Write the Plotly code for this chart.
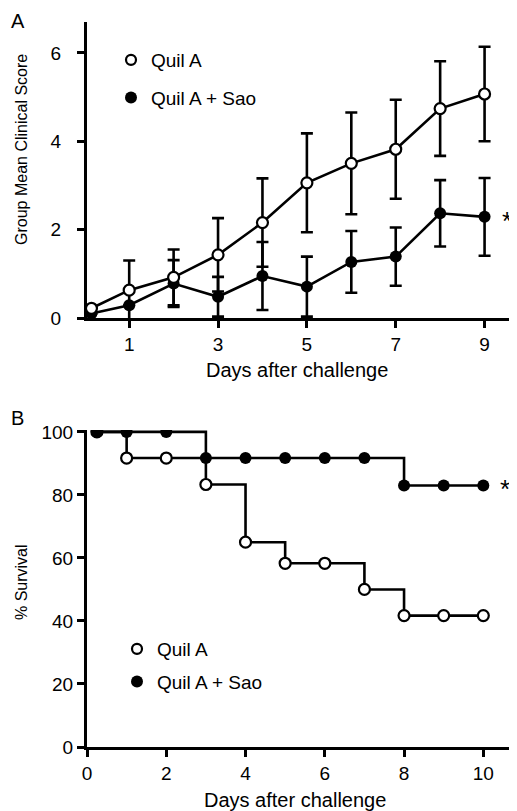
import plotly.graph_objects as go

# ---------------- data ----------------
# Panel A: group mean clinical score
days_a = [0.15, 1, 2, 3, 4, 5, 6, 7, 8, 9]
quil_a_score = [0.22, 0.63, 0.92, 1.43, 2.16, 3.06, 3.5, 3.82, 4.74, 5.07]
quil_a_err = [0.0, 0.67, 0.63, 0.83, 1.0, 1.12, 1.15, 1.12, 1.07, 1.07]
sao_score = [0.1, 0.29, 0.78, 0.48, 0.95, 0.71, 1.27, 1.39, 2.37, 2.29]
sao_err = [0.0, 0.0, 0.53, 0.45, 0.77, 0.68, 0.7, 0.66, 0.75, 0.88]

# Panel B: % survival
days_b = [0.25, 1, 2, 3, 4, 5, 6, 7, 8, 9, 10]
quil_a_surv = [100, 91.7, 91.7, 83.3, 65.0, 58.3, 58.3, 50.0, 41.7, 41.7, 41.7]
sao_surv = [100, 100, 100, 91.7, 91.7, 91.7, 91.7, 91.7, 83.0, 83.0, 83.0]

ticks_a_x = [1, 3, 5, 7, 9]
ticks_a_y = [0, 2, 4, 6]
ticks_b_x = [0, 2, 4, 6, 8, 10]
ticks_b_y = [0, 20, 40, 60, 80, 100]

series_names = ["Quil A", "Quil A + Sao"]

FONT = "Liberation Sans"
BLACK = "#000000"
OFF = 8                     # page body margin offset
W, H = 517 - OFF, 811 - OFF


def px(x):
    return (x - OFF) / W


def py(y):
    return 1 - (y - OFF) / H


fig = go.Figure()

# ---- Panel A ----
fig.add_trace(go.Scatter(
    x=days_a, y=sao_score, mode="lines+markers", xaxis="x", yaxis="y",
    line=dict(color=BLACK, width=2.6),
    marker=dict(symbol="circle", size=12, color=BLACK),
    error_y=dict(type="data", array=sao_err, color=BLACK, thickness=2.6, width=6),
    showlegend=False))
fig.add_trace(go.Scatter(
    x=days_a, y=quil_a_score, mode="lines+markers", xaxis="x", yaxis="y",
    line=dict(color=BLACK, width=2.6),
    marker=dict(symbol="circle", size=11, color="white", line=dict(color=BLACK, width=2.2)),
    error_y=dict(type="data", array=quil_a_err, color=BLACK, thickness=2.6, width=6),
    showlegend=False))

# ---- Panel B ----
fig.add_trace(go.Scatter(
    x=days_b, y=quil_a_surv, mode="lines+markers", xaxis="x2", yaxis="y2",
    line=dict(color=BLACK, width=2.6, shape="hv"),
    marker=dict(symbol="circle", size=11, color="white", line=dict(color=BLACK, width=2.2)),
    showlegend=False))
fig.add_trace(go.Scatter(
    x=days_b, y=sao_surv, mode="lines+markers", xaxis="x2", yaxis="y2",
    line=dict(color=BLACK, width=2.6, shape="hv"),
    marker=dict(symbol="circle", size=12, color=BLACK),
    showlegend=False))

# ---- legend entries ----
for leg in ["legend", "legend2"]:
    fig.add_trace(go.Scatter(
        x=[None], y=[None], mode="markers", name=series_names[0], legend=leg,
        legendgroup=leg + "a", xaxis="x", yaxis="y",
        marker=dict(symbol="circle", size=10, color="white", line=dict(color=BLACK, width=2.2))))
    fig.add_trace(go.Scatter(
        x=[None], y=[None], mode="markers", name=series_names[1], legend=leg,
        legendgroup=leg + "b", xaxis="x", yaxis="y",
        marker=dict(symbol="circle", size=12, color=BLACK)))

axis_common = dict(
    showline=True, linecolor=BLACK, linewidth=3,
    ticks="outside", ticklen=7, tickwidth=2.5, tickcolor=BLACK,
    showgrid=False, zeroline=False, automargin=False,
    tickfont=dict(family=FONT, size=19, color=BLACK),
)

fig.update_layout(
    width=W, height=H,
    margin=dict(l=0, r=0, t=0, b=0, autoexpand=False),
    paper_bgcolor="white", plot_bgcolor="white",
    font=dict(family=FONT, color=BLACK),
    xaxis=dict(domain=[px(87), 1], range=[0.05, 9.73], tickvals=ticks_a_x,
               anchor="y", **axis_common),
    yaxis=dict(domain=[py(318), py(22)], range=[0, 6.7], tickvals=ticks_a_y,
               anchor="x", ticklabelstandoff=12, **axis_common),
    xaxis2=dict(domain=[px(87), 1], range=[0, 10.85], tickvals=ticks_b_x,
                anchor="y2", **axis_common),
    yaxis2=dict(domain=[py(747), py(430)], range=[0, 100.6], tickvals=ticks_b_y,
                anchor="x2", **axis_common),
    legend=dict(x=px(111), y=py(41), xanchor="left", yanchor="top",
                bgcolor="rgba(0,0,0,0)", traceorder="grouped", tracegroupgap=10,
                font=dict(family=FONT, size=19, color=BLACK), itemwidth=30),
    legend2=dict(x=px(117), y=py(630), xanchor="left", yanchor="top",
                 bgcolor="rgba(0,0,0,0)", traceorder="grouped", tracegroupgap=5,
                 font=dict(family=FONT, size=19, color=BLACK), itemwidth=30),
)

annotations = [
    dict(text="A", x=px(18), y=1, yanchor="top", font=dict(family=FONT, size=20, color=BLACK)),
    dict(text="B", x=px(17), y=py(405), yanchor="top", font=dict(family=FONT, size=20, color=BLACK)),
    dict(text="Days after challenge", x=px(297), y=py(370), yanchor="middle",
         font=dict(family=FONT, size=20, color=BLACK)),
    dict(text="Days after challenge", x=px(295), y=py(800), yanchor="middle",
         font=dict(family=FONT, size=20, color=BLACK)),
    dict(text="Group Mean Clinical Score", x=px(21), y=py(150), textangle=-90, yanchor="middle",
         font=dict(family=FONT, size=16, color=BLACK)),
    dict(text="% Survival", x=px(21), y=py(582), textangle=-90, yanchor="middle",
         font=dict(family=FONT, size=16, color=BLACK)),
]
for a in annotations:
    a.update(xref="paper", yref="paper", showarrow=False, xanchor="center")
annotations += [
    dict(text="*", x=9.5, y=sao_score[-1], xref="x", yref="y", showarrow=False, yshift=-4,
         font=dict(family=FONT, size=26, color=BLACK), xanchor="center", yanchor="middle"),
    dict(text="*", x=10.55, y=sao_surv[-1], xref="x2", yref="y2", showarrow=False, yshift=-4,
         font=dict(family=FONT, size=26, color=BLACK), xanchor="center", yanchor="middle"),
]
fig.update_layout(annotations=annotations)

fig.write_html("out.html")
